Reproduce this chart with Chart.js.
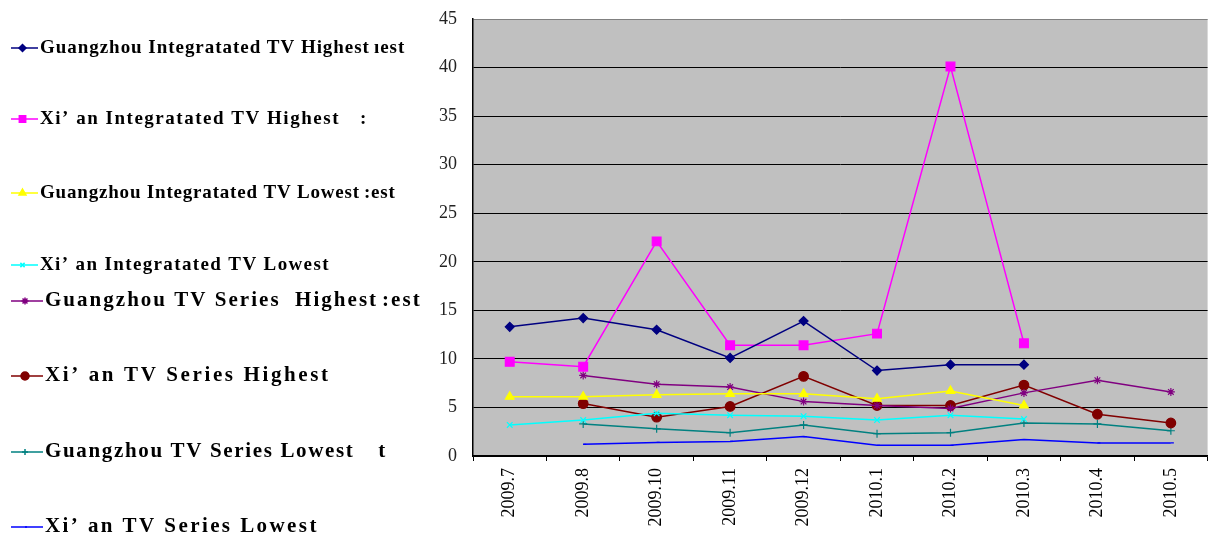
<!DOCTYPE html>
<html>
<head>
<meta charset="utf-8">
<script src="https://cdn.jsdelivr.net/npm/chart.js@4"></script>
<style>
  html, body { margin: 0; padding: 0; background: #fff; }
  #wrap { width: 1215px; height: 535px; position: relative; }
</style>
</head>
<body>
<div id="wrap"><canvas id="c" width="1215" height="535"></canvas></div>
<script>
const categories = ['2009.7','2009.8','2009.10','2009.11','2009.12','2010.1','2010.2','2010.3','2010.4','2010.5'];
const yTicks = [0,5,10,15,20,25,30,35,40,45];

const seriesNames = [
  'Guangzhou Integratated TV Highest',
  'Xi\u2019 an Integratated TV Highest',
  'Guangzhou Integratated TV Lowest',
  'Xi\u2019 an Integratated TV Lowest',
  'Guangzhou TV Series  Highest',
  'Xi\u2019 an TV Series Highest',
  'Guangzhou TV Series Lowest',
  'Xi\u2019 an TV Series Lowest'
];
// stray fragments visible after some legend labels
const legendFragments = ['\u0131est', ':', ':est', '', ':est', '', 't', ''];

const gzIntHigh = [13.3, 14.2, 13.0, 10.1, 13.9, 8.8, 9.4, 9.4, null, null];
const xaIntHigh = [9.7, 9.2, 22.1, 11.4, 11.4, 12.6, 40.1, 11.6, null, null];
const gzIntLow  = [6.1, 6.1, 6.3, 6.4, 6.4, 5.9, 6.7, 5.2, null, null];
const xaIntLow  = [3.2, 3.7, 4.4, 4.2, 4.1, 3.7, 4.2, 3.8, null, null];
const gzSerHigh = [null, 8.3, 7.4, 7.1, 5.6, 5.2, 4.9, 6.5, 7.8, 6.6];
const xaSerHigh = [null, 5.4, 4.0, 5.1, 8.2, 5.2, 5.2, 7.3, 4.3, 3.4];
const gzSerLow  = [null, 3.3, 2.8, 2.4, 3.2, 2.3, 2.4, 3.4, 3.3, 2.6];
const xaSerLow  = [null, 1.2, 1.4, 1.5, 2.0, 1.1, 1.1, 1.7, 1.35, 1.35];

const seriesData = [gzIntHigh, xaIntHigh, gzIntLow, xaIntLow, gzSerHigh, xaSerHigh, gzSerLow, xaSerLow];
const colors = ['#000080', '#FF00FF', '#FFFF00', '#00FFFF', '#800080', '#800000', '#008080', '#0000FF'];
const styles = ['rectRot', 'rect', 'triangle', 'crossRot', 'star', 'circle', 'cross', 'dash'];
const radii = [4.5, 6.2, 5, 4, 4, 4.8, 4, 3];

// legend layout (positions/sizes)
const legendY = [48, 119, 193, 265, 301, 376, 452, 527];
const legendTextX = [40, 40, 40, 40, 45, 45, 45, 45];
const legendFont = [19, 19, 19, 19, 21, 21, 21, 21];
const legendCharW = [10, 10, 10, 10, 11.9, 11.9, 11.9, 11.9];
const legendMarkR = [3.5, 4.5, 4, 3, 3.5, 4, 3, 2];

const datasets = seriesData.map((d, i) => ({
  label: seriesNames[i],
  data: d,
  borderColor: colors[i],
  backgroundColor: colors[i],
  pointBackgroundColor: colors[i],
  pointBorderColor: colors[i],
  pointStyle: styles[i],
  pointRadius: radii[i],
  pointBorderWidth: 1.2,
  borderWidth: 1.5,
  tension: 0,
  spanGaps: false
}));

const bgPlugin = {
  id: 'bg',
  beforeDraw(chart) {
    const {ctx, chartArea: a} = chart;
    ctx.save();
    ctx.fillStyle = '#C0C0C0';
    ctx.fillRect(a.left, a.top, a.right - a.left, a.bottom - a.top);
    ctx.restore();
  }
};

const legendPlugin = {
  id: 'sideLegend',
  afterDraw(chart) {
    const ctx = chart.ctx;
    ctx.save();
    chart.data.datasets.forEach((ds, i) => {
      const y = legendY[i];
      const x0 = 11, x1 = legendTextX[i] - 2;
      ctx.strokeStyle = ds.borderColor;
      ctx.lineWidth = 1.5;
      ctx.beginPath();
      ctx.moveTo(x0, y);
      ctx.lineTo(x1, y);
      ctx.stroke();
      ctx.fillStyle = ds.backgroundColor;
      Chart.helpers.drawPoint(ctx, {
        pointStyle: ds.pointStyle, radius: legendMarkR[i], rotation: 0, borderWidth: 1.2
      }, (x0 + x1) / 2 - 2, y);
      ctx.fillStyle = '#000';
      ctx.font = 'bold ' + legendFont[i] + 'px "Liberation Serif", serif';
      ctx.textBaseline = 'middle';
      ctx.textAlign = 'left';
      const txt = ds.label;
      ctx.letterSpacing = '0px';
      const w = ctx.measureText(txt).width;
      const sp = Math.max(0, (legendCharW[i] * txt.length - w) / txt.length);
      ctx.letterSpacing = sp.toFixed(2) + 'px';
      ctx.fillText(txt, legendTextX[i], y);
      const fr = legendFragments[i];
      if (fr) {
        const tw = ctx.measureText(txt).width;
        ctx.fillText(fr, legendTextX[i] + tw + (fr === 't' || fr === ':' ? 2 * legendCharW[i] : 4), y);
      }
    });
    ctx.restore();
  }
};

new Chart(document.getElementById('c'), {
  type: 'line',
  data: { labels: categories, datasets },
  plugins: [bgPlugin, legendPlugin],
  options: {
    responsive: false,
    animation: false,
    layout: { padding: { top: 19, right: 3, left: 0, bottom: 0 } },
    plugins: { legend: { display: false }, tooltip: { enabled: false } },
    scales: {
      x: {
        offset: true,
        grid: {
          offset: true,
          drawOnChartArea: false,
          drawTicks: true,
          tickLength: 5,
          color: '#000',
          lineWidth: 1
        },
        border: { display: true, color: '#000', width: 1.5 },
        ticks: {
          minRotation: 90, maxRotation: 90, autoSkip: false,
          padding: 7,
          color: '#000',
          font: { family: '"Liberation Serif", serif', size: 18 }
        },
        afterFit(scale) { scale.height = 79; scale.paddingLeft = 0; scale.paddingRight = 0; }
      },
      y: {
        min: 0, max: 45,
        afterBuildTicks(scale) { scale.ticks = yTicks.map(v => ({ value: v })); },
        grid: {
          drawTicks: false,
          color: ctx => (ctx.tick && ctx.tick.value === 45) ? '#808080' : '#000',
          lineWidth: 1
        },
        border: { display: true, color: '#000', width: 1.5 },
        ticks: {
          padding: 16,
          color: '#222',
          font: { family: '"Liberation Serif", serif', size: 18 }
        },
        afterFit(scale) { scale.width = 473; scale.paddingTop = 0; scale.paddingBottom = 0; }
      }
    }
  }
});
</script>
</body>
</html>
